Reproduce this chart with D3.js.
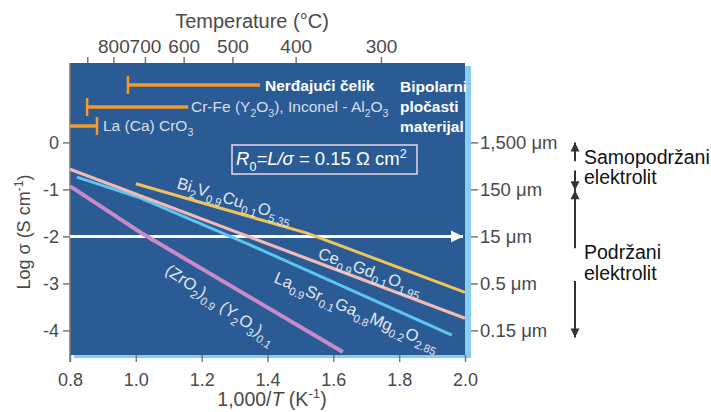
<!DOCTYPE html>
<html>
<head>
<meta charset="utf-8">
<script src="https://cdn.jsdelivr.net/npm/d3@7"></script>
<style>
  body { margin: 0; background: #fff; }
  svg { font-family: "Liberation Sans", Arial, sans-serif; }
</style>
</head>
<body>
<script>
// values: x = 1000/T (K^-1), y = log sigma (S cm^-1)
let xTicks = [0.8, 1.0, 1.2, 1.4, 1.6, 1.8, 2.0];
let yTicks = [0, -1, -2, -3, -4];
let thicknessLabels = ["1,500 μm", "150 μm", "15 μm", "0.5 μm", "0.15 μm"];
let tempTicks = [900, 800, 700, 600, 500, 400, 300];
let tempLabels = ["", "800", "700", "600", "500", "400", "300"];

let bicuvox = [[1.0, -0.88], [1.52, -1.93], [2.0, -3.19]];
let cgo = [[0.8, -0.57], [2.0, -3.74]];
let lsgm = [[0.821, -0.74], [1.013, -1.18], [1.347, -2.18], [1.96, -4.10]];
let ysz = [[0.8, -0.93], [1.022, -1.95], [1.629, -4.46]];

// interconnect ranges, in 1000/T
let steelRange = [0.976, 1.377];
let crfeRange = [0.852, 1.159];
let lacroRange = [0.8, 0.882];

let width = 711, height = 412;
let plot = {left: 70, right: 465, top: 63, bottom: 355};

let svg = d3.select("body").append("svg")
    .attr("width", width).attr("height", height);

let x = d3.scaleLinear().domain([0.8, 2.0]).range([plot.left, plot.right]);
let y = d3.scaleLinear().domain([0, -4]).range([142.4, 330.4]);

// text with sub/superscripts and italics
function rich(sel, parts, size) {
    let cur = 0;
    parts.forEach((p) => {
        let target = p.s == "sub" ? size * 0.3 : p.s == "sup" ? -size * 0.4 : 0;
        sel.append("tspan")
            .attr("dy", target - cur)
            .attr("font-size", p.s ? size * 0.68 : size)
            .attr("font-style", p.i ? "italic" : null)
            .text(p.t);
        cur = target;
    });
    return sel;
}

let defs = svg.append("defs");
function marker(id, color, w, h) {
    defs.append("marker").attr("id", id)
        .attr("viewBox", "0 0 10 10").attr("refX", 10).attr("refY", 5)
        .attr("markerUnits", "userSpaceOnUse")
        .attr("markerWidth", w).attr("markerHeight", h)
        .attr("orient", "auto")
        .append("path").attr("d", "M0,0L10,5L0,10z").attr("fill", color);
}
marker("whiteHead", "#fff", 14, 12);
marker("greyHead", "#333", 10, 9);

// plot background with light blue shadow
svg.append("rect")
    .attr("x", plot.left + 4).attr("y", plot.top + 3)
    .attr("width", plot.right - plot.left + 2).attr("height", plot.bottom - plot.top)
    .attr("fill", "#86cdef");
svg.append("rect")
    .attr("x", plot.left).attr("y", plot.top)
    .attr("width", plot.right - plot.left).attr("height", plot.bottom - plot.top)
    .attr("fill", "#2b5b94");

// axes
let grey = "#4a4a4a";
function styleAxis(g, size) {
    g.select(".domain").remove();
    g.selectAll(".tick line").attr("stroke", "#777").attr("stroke-width", 1.5);
    g.selectAll(".tick text").attr("fill", grey).attr("font-size", size)
        .attr("font-family", "Liberation Sans, Arial, sans-serif");
}

svg.append("g").attr("transform", `translate(0,${plot.bottom})`)
    .call(d3.axisBottom(x).tickValues(xTicks).tickFormat(d3.format(".1f")).tickSize(7).tickPadding(11))
    .call(styleAxis, 18);

svg.append("g").attr("transform", `translate(${plot.left},0)`)
    .call(d3.axisLeft(y).tickValues(yTicks).tickFormat((d) => d == 0 ? "0" : "-" + Math.abs(d)).tickSize(7).tickPadding(4))
    .call(styleAxis, 18);

svg.append("g").attr("transform", `translate(${plot.right + 6},0)`)
    .call(d3.axisRight(y).tickValues(yTicks).tickFormat((d, i) => thicknessLabels[i]).tickSize(7).tickPadding(2))
    .call(styleAxis, 18.5);

let invT = (t) => 1000 / (t + 273.15);
svg.append("g").attr("transform", `translate(0,${plot.top})`)
    .call(d3.axisTop(x).tickValues(tempTicks.map(invT)).tickFormat((d, i) => tempLabels[i]).tickSize(6).tickPadding(4))
    .call(styleAxis, 19);

svg.append("line")
    .attr("x1", plot.left).attr("x2", plot.left)
    .attr("y1", plot.top).attr("y2", plot.bottom + 7)
    .attr("stroke", "#777").attr("stroke-width", 1.5);

// axis titles
svg.append("text").attr("x", 252).attr("y", 28).attr("text-anchor", "middle")
    .attr("fill", grey).attr("font-size", 20).text("Temperature (°C)");

rich(svg.append("text").attr("x", 272).attr("y", 406).attr("text-anchor", "middle").attr("fill", grey),
    [{t: "1,000/"}, {t: "T", i: true}, {t: " (K"}, {t: "-1", s: "sup"}, {t: ")"}], 19.5);

rich(svg.append("text").attr("transform", "translate(30,232) rotate(-90)").attr("text-anchor", "middle").attr("fill", grey),
    [{t: "Log σ (S cm"}, {t: "-1", s: "sup"}, {t: ")"}], 18);

// 15 um reference arrow
svg.append("line")
    .attr("x1", x(0.8)).attr("x2", x(2.0) - 2)
    .attr("y1", y(-2)).attr("y2", y(-2))
    .attr("stroke", "#fff").attr("stroke-width", 3)
    .attr("marker-end", "url(#whiteHead)");

// conductivity lines
let line = d3.line().x((d) => x(d[0])).y((d) => y(d[1]));
let series = [
    {data: ysz, color: "#c98ac9", w: 4},
    {data: lsgm, color: "#5dc6ef", w: 3},
    {data: cgo, color: "#f3b9b3", w: 3.2},
    {data: bicuvox, color: "#f1c35c", w: 3}
];
svg.append("g").selectAll("path").data(series).join("path")
    .attr("d", (d) => line(d.data))
    .attr("fill", "none")
    .attr("stroke", (d) => d.color)
    .attr("stroke-width", (d) => d.w);

// line labels
let labelColor = "#e4e7f0";
let labels = [
    {pos: [176, 188], rot: 17, parts: [{t: "Bi"}, {t: "2", s: "sub"}, {t: "V"}, {t: "0.9", s: "sub"}, {t: "Cu"}, {t: "0.1", s: "sub"}, {t: "O"}, {t: "5.35", s: "sub"}]},
    {pos: [317, 258], rot: 20, parts: [{t: "Ce"}, {t: "0.9", s: "sub"}, {t: "Gd"}, {t: "0.1", s: "sub"}, {t: "O"}, {t: "1.95", s: "sub"}]},
    {pos: [273, 282], rot: 23, parts: [{t: "La"}, {t: "0.9", s: "sub"}, {t: "Sr"}, {t: "0.1", s: "sub"}, {t: "Ga"}, {t: "0.8", s: "sub"}, {t: "Mg"}, {t: "0.2", s: "sub"}, {t: "O"}, {t: "2.85", s: "sub"}]},
    {pos: [164, 273], rot: 34, parts: [{t: "(ZrO"}, {t: "2", s: "sub"}, {t: ")"}, {t: "0.9", s: "sub"}, {t: " (Y"}, {t: "2", s: "sub"}, {t: "O"}, {t: "3", s: "sub"}, {t: ")"}, {t: "0.1", s: "sub"}]}
];
labels.forEach((l) => {
    rich(svg.append("text")
        .attr("transform", `translate(${l.pos[0]},${l.pos[1]}) rotate(${l.rot})`)
        .attr("fill", labelColor), l.parts, 16.5);
});

// R0 box
svg.append("rect").attr("x", 232).attr("y", 145).attr("width", 185).attr("height", 29)
    .attr("fill", "none").attr("stroke", "#ecd6e6").attr("stroke-width", 1.5);
rich(svg.append("text").attr("x", 236).attr("y", 165).attr("fill", "#fff"),
    [{t: "R", i: true}, {t: "0", s: "sub"}, {t: "=L/σ", i: true}, {t: " = 0.15 Ω cm"}, {t: "2", s: "sup"}], 18.5);

// interconnect ranges
let orange = "#f29a2e";
let bars = [
    {range: steelRange, yPos: 85, cap: "left"},
    {range: crfeRange, yPos: 107, cap: "left"},
    {range: lacroRange, yPos: 126, cap: "right"}
];
bars.forEach((b) => {
    let x0 = x(b.range[0]), x1 = x(b.range[1]);
    svg.append("line").attr("x1", x0).attr("x2", x1).attr("y1", b.yPos).attr("y2", b.yPos)
        .attr("stroke", orange).attr("stroke-width", 3.5);
    let cx = b.cap == "left" ? x0 : x1;
    svg.append("line").attr("x1", cx).attr("x2", cx).attr("y1", b.yPos - 9).attr("y2", b.yPos + 9)
        .attr("stroke", orange).attr("stroke-width", 2.5);
});

svg.append("text").attr("x", 265).attr("y", 91).attr("fill", "#fff")
    .attr("font-weight", "bold").attr("font-size", 15.5).text("Nerđajući čelik");
rich(svg.append("text").attr("x", 191).attr("y", 112).attr("fill", "#d9dee9"),
    [{t: "Cr-Fe (Y"}, {t: "2", s: "sub"}, {t: "O"}, {t: "3", s: "sub"}, {t: "), Inconel - Al"}, {t: "2", s: "sub"}, {t: "O"}, {t: "3", s: "sub"}], 15.5);
rich(svg.append("text").attr("x", 103).attr("y", 131).attr("fill", "#d9dee9"),
    [{t: "La (Ca) CrO"}, {t: "3", s: "sub"}], 15.5);

["Bipolarni", "pločasti", "materijal"].forEach((t, i) => {
    svg.append("text").attr("x", 400).attr("y", 92 + i * 20).attr("fill", "#fff")
        .attr("font-weight", "bold").attr("font-size", 15.5).text(t);
});

// electrolyte thickness annotations
let arrowX = 575;
[[-0.4, 0], [-0.6, -1.02], [-2.25, -1.02], [-2.95, -4.15]].forEach((a) => {
    svg.append("line").attr("x1", arrowX).attr("x2", arrowX)
        .attr("y1", y(a[0])).attr("y2", y(a[1]))
        .attr("stroke", "#333").attr("stroke-width", 2)
        .attr("marker-end", "url(#greyHead)");
});
[["Samopodržani", 164], ["elektrolit", 184], ["Podržani", 259], ["elektrolit", 280]].forEach((t) => {
    svg.append("text").attr("x", 584).attr("y", t[1]).attr("fill", "#111")
        .attr("font-size", 19.5).text(t[0]);
});
</script>
</body>
</html>
